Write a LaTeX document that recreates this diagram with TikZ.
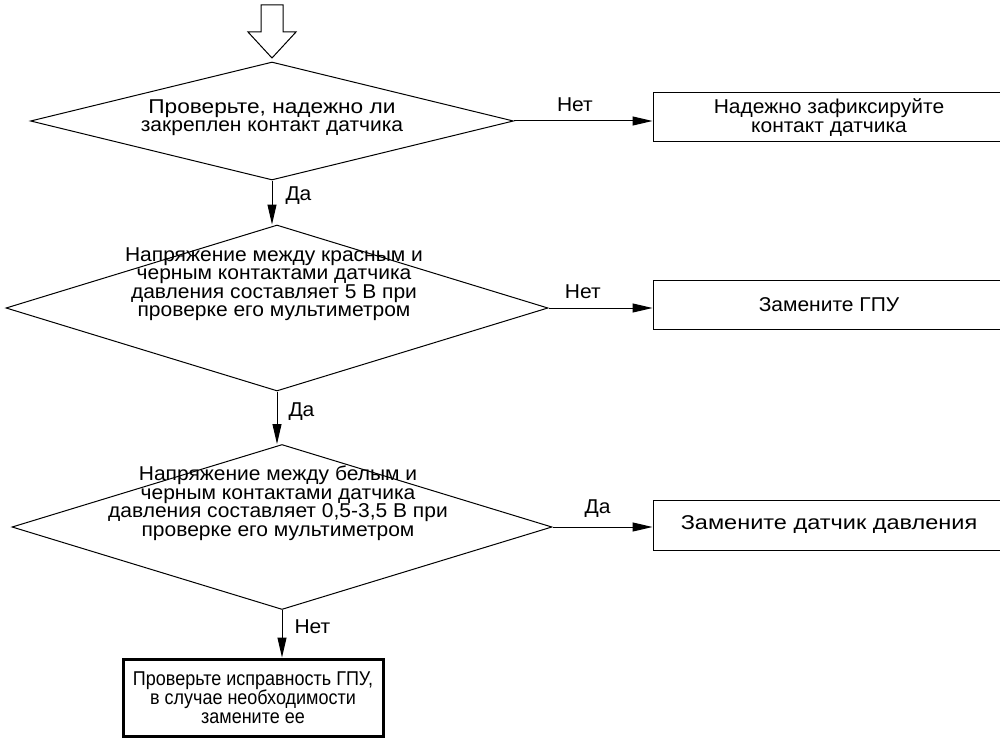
\documentclass[tikz,border=0pt]{standalone}
\usepackage{fontspec}
\setmainfont[FakeStretch=1.05]{Liberation Sans}
\newfontfamily\narrowfont[FakeStretch=0.9]{Liberation Sans}
\usetikzlibrary{shapes.geometric,arrows.meta}
\begin{document}
\begin{tikzpicture}[x=1pt,y=-1pt,
  font=\fontsize{20}{18.5}\selectfont,
  dia/.style={diamond,draw,line width=1pt,inner sep=0pt},
  txt/.style={align=center,inner sep=0pt},
  box/.style={draw,line width=1pt,align=center,inner sep=0pt},
  arr/.style={line width=1pt,-{Triangle[length=20pt,width=9pt]}},
  lbl/.style={inner sep=0pt}]
\useasboundingbox (0,0) rectangle (1000,738);

% decisions
\node[dia,minimum width=483pt,minimum height=118pt] (d1) at (272,121) {};
\node[dia,minimum width=542pt,minimum height=166pt] (d2) at (277,308) {};
\node[dia,minimum width=540pt,minimum height=165pt] (d3) at (282,527) {};

\node[txt] (t1) at (272,117.5) {\scalebox{1.08}[1]{Проверьте, надежно ли}\\закреплен контакт датчика};
\node[txt] (t2) at (274,284) {Напряжение между красным и\\черным контактами датчика\\давления составляет 5 В при\\проверке его мультиметром};
\node[txt] (t3) at (278,503) {Напряжение между белым и\\черным контактами датчика\\давления составляет 0,5-3,5 В при\\проверке его мультиметром};

% boxes
\node[box,minimum width=352pt,minimum height=49pt] (b1) at (829,117.5) {Надежно зафиксируйте\\контакт датчика};
\node[box,minimum width=352pt,minimum height=49pt] (b2) at (829,304.5) {Замените ГПУ};
\node[box,minimum width=352pt,minimum height=50pt] (b3) at (829,525) {\scalebox{1.12}[1]{Замените датчик давления}};
\node[box,line width=3pt,minimum width=260pt,minimum height=77pt,font=\narrowfont\fontsize{20}{18.5}\selectfont] (b4) at (253,697.5) {Проверьте исправность ГПУ,\\в случае необходимости\\замените ее};

% entry arrow
\coordinate (entry) at (272,58);
\draw[line width=1pt,line join=miter] (entry) -- ++(-24,-26) -- ++(13,0) -- ++(0,-27) -- ++(22,0) -- ++(0,27) -- ++(13,0) -- cycle;

% connectors
\draw[arr] (d1.east) -- (d1.east -| b1.west) node[lbl,pos=0.44,above=9pt] {Нет};
\draw[arr] (d2.east) -- (d2.east -| b2.west) node[lbl,pos=0.33,above=9pt] {Нет};
\draw[arr] (d3.east) -- (d3.east -| b3.west) node[lbl,pos=0.45,above=9pt] {Да};

\draw[arr] (d1.south) -- (d1.south |- d2.north) node[lbl,pos=0.35,right=13pt] {Да};
\draw[arr] (d2.south) -- (d2.south |- d3.north) node[lbl,pos=0.38,right=11pt] {Да};
\draw[arr] (d3.south) -- (d3.south |- b4.north) node[lbl,pos=0.35,right=12pt] {Нет};
\end{tikzpicture}
\end{document}
